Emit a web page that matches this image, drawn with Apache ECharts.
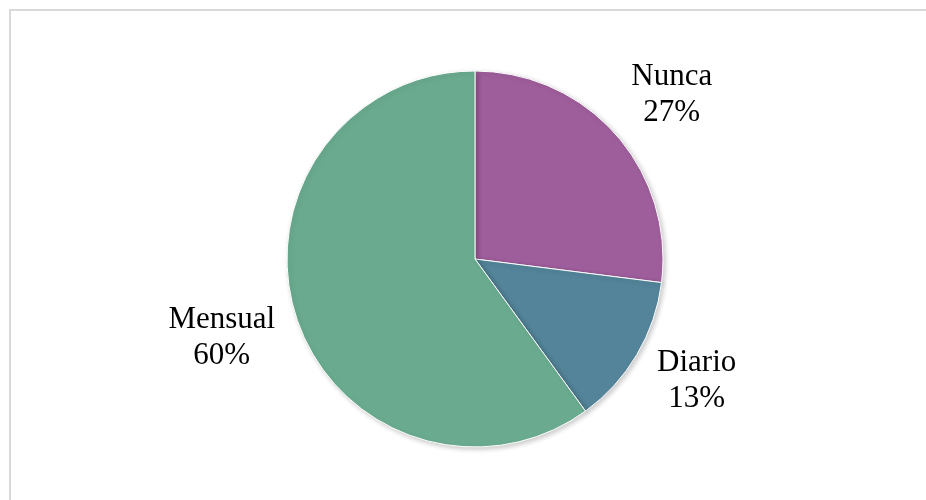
<!DOCTYPE html>
<html>
<head>
<meta charset="utf-8">
<script src="https://cdn.jsdelivr.net/npm/echarts@6/dist/echarts.min.js"></script>
<style>
  html, body { margin: 0; padding: 0; background: #fff; }
  #main { width: 926px; height: 500px; }
</style>
</head>
<body>
<div id="main"></div>
<script>
var dom = document.getElementById('main');
var myChart = echarts.init(dom);

// frecuencia
var categories = ['Nunca', 'Diario', 'Mensual'];
var values = [27, 13, 60];
var colors = ['#9E5E9B', '#538499', '#6AAB8F'];
// pequeño ajuste de cada etiqueta
var labelDx = [1, -3, -5];
var labelDy = [8, -11, -2];

var pieData = categories.map(function (name, i) {
    return { name: name, value: values[i], itemStyle: { color: colors[i] } };
});

var center = [475, 259];

option = {
    backgroundColor: '#fff',
    animation: false,
    graphic: [{
        type: 'rect',
        shape: { x: 10, y: 10, width: 930, height: 520 },
        style: { fill: 'none', stroke: '#d9d9d9', lineWidth: 2 },
        silent: true
    }],
    series: [
        {
            type: 'pie',
            center: center,
            radius: 188,
            startAngle: 90,
            clockwise: true,
            silent: true,
            itemStyle: {
                borderColor: '#fff',
                borderWidth: 1,
                shadowBlur: 5,
                shadowColor: 'rgba(0,0,0,0.2)',
                shadowOffsetX: 2,
                shadowOffsetY: 2
            },
            label: { show: false },
            labelLine: { show: false },
            data: pieData
        },
        // capa transparente solo para las etiquetas
        {
            type: 'pie',
            center: center,
            radius: [238, 278],
            startAngle: 90,
            clockwise: true,
            silent: true,
            percentPrecision: 0,
            itemStyle: { color: 'transparent' },
            label: {
                show: true,
                position: 'inside',
                rotate: 0,
                formatter: '{b}\n{d}%',
                fontFamily: 'Liberation Serif',
                fontSize: 31,
                lineHeight: 36,
                color: '#000'
            },
            labelLine: { show: false },
            labelLayout: function (params) {
                return { dx: labelDx[params.dataIndex], dy: labelDy[params.dataIndex] };
            },
            data: categories.map(function (name, i) {
                return { name: name, value: values[i] };
            })
        }
    ]
};
myChart.setOption(option);
</script>
</body>
</html>
